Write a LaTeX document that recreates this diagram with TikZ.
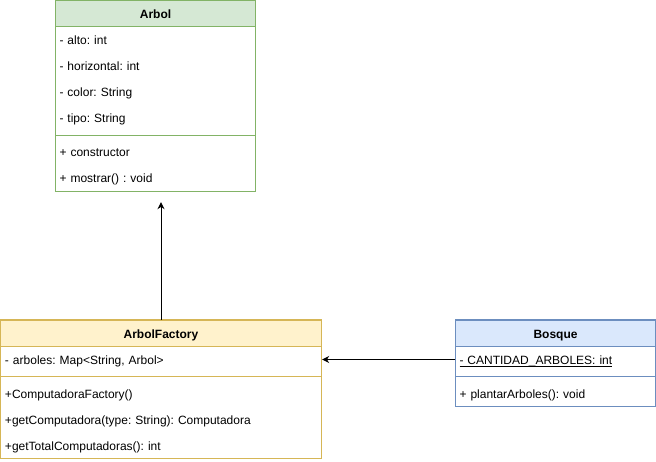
\documentclass[tikz,border=0pt]{standalone}
\usepackage{fontspec}
\setmainfont{Liberation Sans}
\usepackage{xcolor}
\usetikzlibrary{arrows.meta,positioning}
\definecolor{greenfill}{HTML}{D5E8D4}
\definecolor{greenline}{HTML}{82B366}
\definecolor{yellowfill}{HTML}{FFF2CC}
\definecolor{yellowline}{HTML}{D6B656}
\definecolor{bluefill}{HTML}{DAE8FC}
\definecolor{blueline}{HTML}{6C8EBF}
\frenchspacing

\begin{document}
\begin{tikzpicture}[x=1pt,y=1pt,>={Stealth[length=7pt,width=7pt]},node distance=26pt,
 font=\fontsize{12}{14}\selectfont,
 head/.style={rectangle,draw,line width=1pt,minimum height=26pt,inner sep=0pt,text height=11pt,text depth=1pt,font=\fontsize{12}{14}\selectfont\bfseries},
 member/.style={rectangle,minimum height=26pt,inner xsep=4pt,inner ysep=0pt,text width=#1,align=left,text height=11pt,text depth=1pt}]
 \useasboundingbox (-0.5,0.5) rectangle (655.5,-461.5);
 \node[head,fill=greenfill,draw=greenline,minimum width=200pt] (a0) at (155,-13.5) {Arbol};
 \node[member=192pt] (a1) [below of=a0] {- alto: int};
 \node[member=192pt] (a2) [below of=a1] {- horizontal: int};
 \node[member=192pt] (a3) [below of=a2] {- color: String};
 \node[member=192pt] (a4) [below of=a3] {- tipo: String};
 \node[member=192pt] (a5) [node distance=34pt,below of=a4] {+ constructor};
 \node[member=192pt] (a6) [below of=a5] {+ mostrar() : void};
 \draw[greenline,line width=1pt] (a0.north west) rectangle (a6.south east);
 \draw[greenline,line width=1pt] ([yshift=-4pt]a4.south west) -- ([yshift=-4pt]a4.south east);

 \node[head,fill=yellowfill,draw=yellowline,minimum width=320pt] (f0) at (160.5,-333) {ArbolFactory};
 \node[member=312pt] (f1) [below of=f0] {- arboles: Map<String, Arbol>};
 \node[member=312pt] (f2) [node distance=34pt,below of=f1] {+ComputadoraFactory()};
 \node[member=312pt] (f3) [below of=f2] {+getComputadora(type: String): Computadora};
 \node[member=312pt] (f4) [below of=f3] {+getTotalComputadoras(): int};
 \draw[yellowline,line width=1pt] (f0.north west) rectangle (f4.south east);
 \draw[yellowline,line width=1pt] ([yshift=-4pt]f1.south west) -- ([yshift=-4pt]f1.south east);

 \node[head,fill=bluefill,draw=blueline,minimum width=200pt] (b0) at (555,-333) {Bosque};
 \node[member=192pt] (b1) [below of=b0] {\underline{\smash{- CANTIDAD\_ARBOLES: int}}};
 \node[member=192pt] (b2) [node distance=34pt,below of=b1] {+ plantarArboles(): void};
 \draw[blueline,line width=1pt] (b0.north west) rectangle (b2.south east);
 \draw[blueline,line width=1pt] ([yshift=-4pt]b1.south west) -- ([yshift=-4pt]b1.south east);

 \draw[->,line width=1pt,shorten >=11pt] (f0.north) -- (f0.north |- a6.south);
 \draw[->,line width=1pt,shorten >=1pt] (b1.west) -- (f1.east);
\end{tikzpicture}
\end{document}
